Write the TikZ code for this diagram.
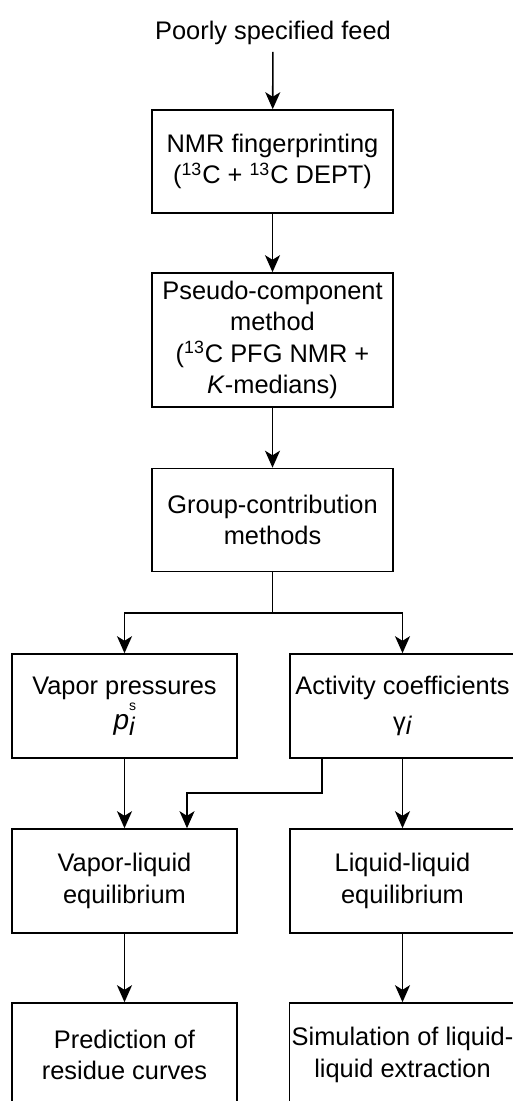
\documentclass[tikz,border=0pt]{standalone}
\usepackage{fontspec}
\setmainfont{Liberation Sans}
\usetikzlibrary{arrows.meta}
\tikzset{
	box/.style={draw, line width=.8pt, rectangle, minimum width=120.5pt, minimum height=51.5pt, align=center, inner sep=1pt},
	wbox/.style={box, minimum width=112.5pt, minimum height=52pt},
	arr/.style={-{Stealth[length=8.5pt,width=7.5pt,inset=2.3pt]}, line width=.8pt}
}
\begin{document}
\begin{tikzpicture}[x=.5pt, y=-.5pt, font=\fontsize{12.7}{15.8}\selectfont]
\clip (0,0) rectangle (513,1101);
\node (feed) at (273,33) {Poorly specified feed};
\node [box] (nmr) at (272.5,161.5) {NMR fingerprinting\\(\textsuperscript{13}C + \textsuperscript{13}C DEPT)};
\node [box, minimum height=67pt] (pseudo) at (272.5,340) {Pseudo-component\\method\\(\textsuperscript{13}C PFG NMR +\\\textit{K}-medians)};
\node [box] (gcm) at (272.5,520) {Group-contribution\\methods};
\node [wbox] (psat) at (124.5,706) {Vapor pressures\\[2pt]{\fontsize{14}{16}\selectfont\textit{p}}\rlap{\raisebox{1.4ex}{\scriptsize s}}\raisebox{-.4ex}{\textit{i}}};
\node [wbox] (gamma) at (402.5,706) {Activity coefficients\\[2pt]γ\raisebox{-.3ex}{\textit{i}}};
\node [wbox] (vle) at (124.5,881) {Vapor-liquid\\equilibrium};
\node [wbox] (lle) at (402.5,881) {Liquid-liquid\\equilibrium};
\node [wbox] (resid) at (124.5,1055) {Prediction of\\residue curves};
\node [wbox] (extr) at (402.5,1055) {Simulation of liquid-\\liquid extraction};
\coordinate (split) at (272.5,613);
\coordinate (bend) at (187,793);
\draw [arr] (feed) -- (nmr);
\draw [arr] (nmr) -- (pseudo);
\draw [arr] (pseudo) -- (gcm);
\draw [line width=.8pt] (gcm) -- (split);
\draw [arr] (split) -| (psat);
\draw [arr] (split) -| (gamma);
\draw [arr] (psat) -- (vle);
\draw [arr] (gamma) -- (lle);
\draw [arr] (gamma.south west) ++(33,0) |- (bend) -- (vle.north -| bend);
\draw [arr] (vle) -- (resid);
\draw [arr] (lle) -- (extr);
\end{tikzpicture}
\end{document}
